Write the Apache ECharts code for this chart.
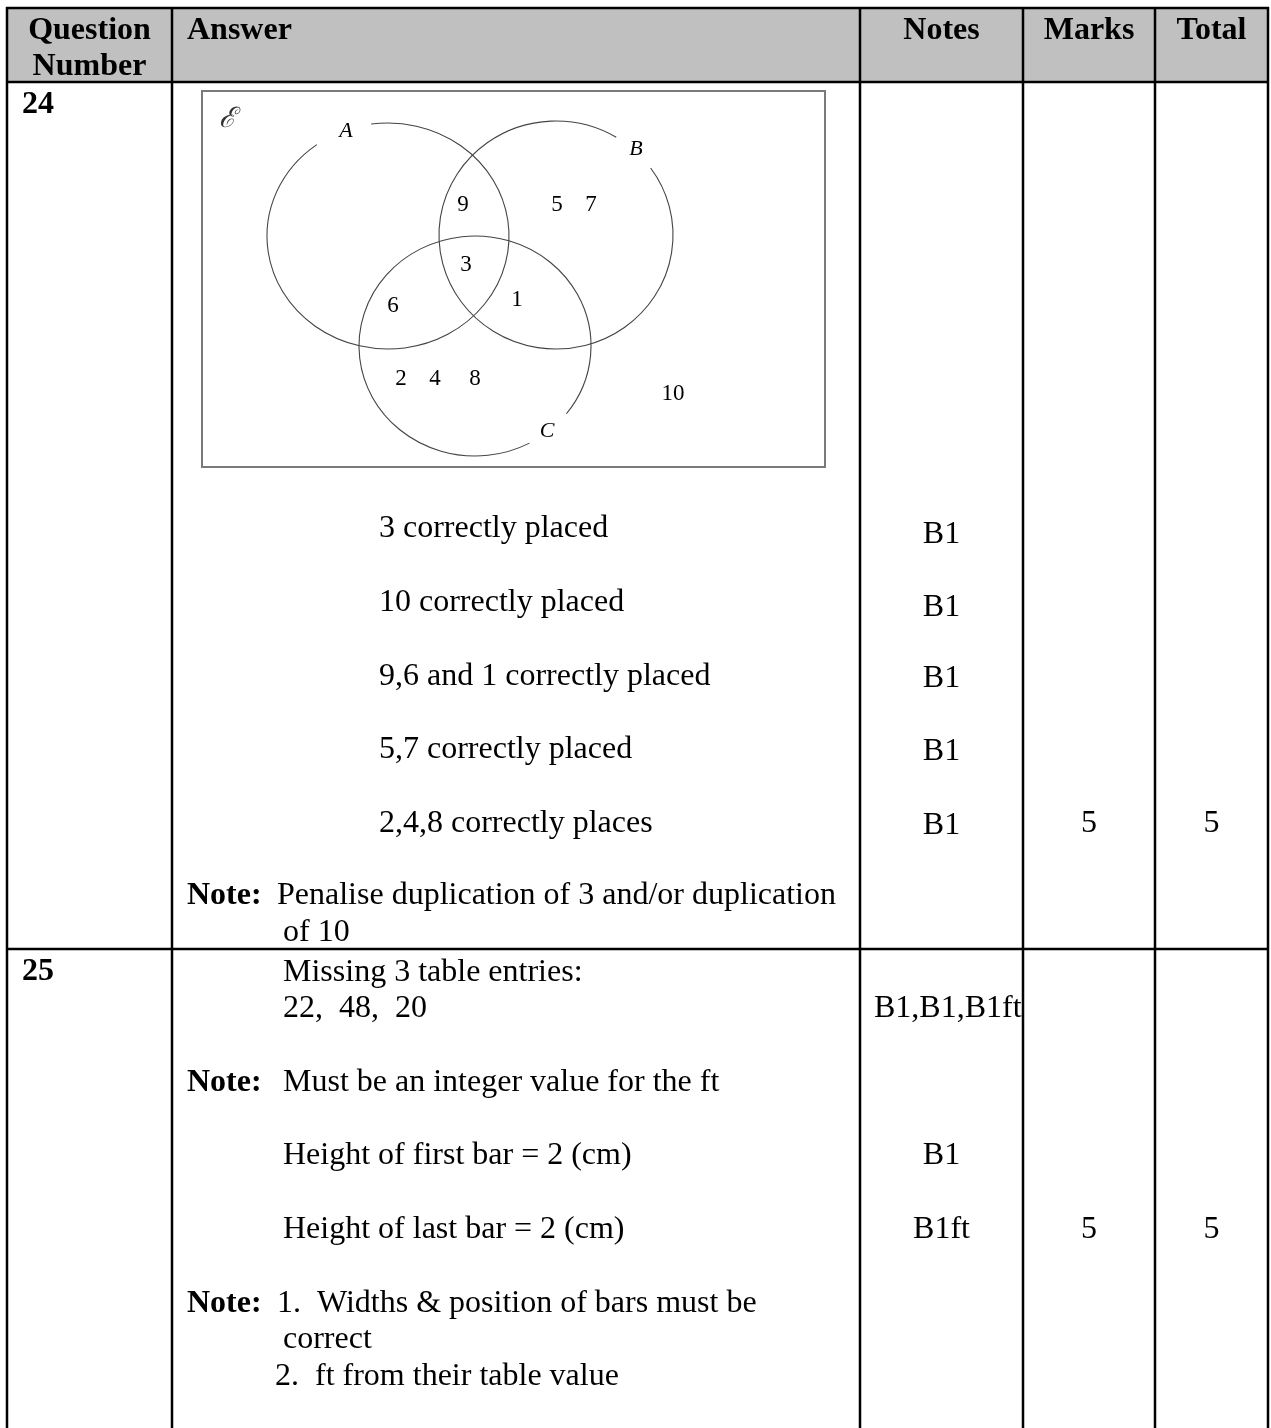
<!DOCTYPE html>
<html><head><meta charset="utf-8">
<script src="https://cdn.jsdelivr.net/npm/echarts@6/dist/echarts.min.js"></script>
<style>html,body{margin:0;padding:0;background:#fff}#c{width:1271px;height:1428px}</style>
</head><body><div id="c"></div>
<script>
// ---------- DATA ----------
const headers = ['Question\nNumber', 'Answer', 'Notes', 'Marks', 'Total'];
const questionNumbers = ['24', '25'];

const q24Answers = ['3 correctly placed', '10 correctly placed', '9,6 and 1 correctly placed', '5,7 correctly placed', '2,4,8 correctly places'];
const q24Notes = ['B1', 'B1', 'B1', 'B1', 'B1'];
const q24Marks = '5';
const q24Total = '5';
const q24NoteLines = ['Penalise duplication of 3 and/or duplication', 'of 10'];

const q25Lines = ['Missing 3 table entries:', '22,  48,  20'];
const q25NoteA = 'Must be an integer value for the ft';
const q25Heights = ['Height of first bar = 2 (cm)', 'Height of last bar = 2 (cm)'];
const q25Notes = ['B1,B1,B1ft', 'B1', 'B1ft'];
const q25Marks = '5';
const q25Total = '5';
const q25NoteBLines = ['1.  Widths & position of bars must be', 'correct', '2.  ft from their table value'];
const noteLabel = 'Note:';

const vennUniverse = 'ℰ';
const vennSetLabels = ['A', 'B', 'C'];
const vennRegionValues = {
  AB: ['9'], B: ['5', '7'], ABC: ['3'], BC: ['1'], AC: ['6'], C: ['2', '4', '8'], outside: ['10']
};

// ---------- LAYOUT ----------
const W = 1271, H = 1428;
const colX = [7, 172, 860, 1023, 1155, 1268];
const headerTop = 8, headerBottom = 82, rowSplit = 949;
const FONT = '"Liberation Serif", "Times New Roman", serif';
const FS = 32;
const DY = 2.5; // baseline nudge for large text

function renderAll(params, api) {
  const ch = [];
  const P = (x, y) => api.coord([x, y]);
  function text(str, x, y, opt) {
    opt = opt || {};
    const p = P(x, y + (opt.size ? 0 : DY));
    ch.push({
      type: 'text', x: p[0], y: p[1],
      style: {
        text: str, fill: opt.fill || '#000',
        font: (opt.italic ? 'italic ' : '') + (opt.bold ? 'bold ' : '') + (opt.size || FS) + 'px ' + (opt.family || FONT),
        align: opt.align || 'left', verticalAlign: 'middle', lineHeight: opt.lh || 36
      }
    });
  }
  function line(x1, y1, x2, y2, w, c) {
    const a = P(x1, y1), b = P(x2, y2);
    ch.push({ type: 'line', shape: { x1: a[0], y1: a[1], x2: b[0], y2: b[1] }, style: { stroke: c || '#000', lineWidth: w || 2 } });
  }
  // header background
  const h0 = P(colX[0], headerTop), h1 = P(colX[5], headerBottom);
  ch.push({ type: 'rect', shape: { x: h0[0], y: h0[1], width: h1[0] - h0[0], height: h1[1] - h0[1] }, style: { fill: '#c0c0c0' } });

  // table lines
  line(colX[0] - 1, headerTop, colX[5] + 1, headerTop, 2.5);
  line(colX[0] - 1, headerBottom, colX[5] + 1, headerBottom, 2.5);
  line(colX[0] - 1, rowSplit, colX[5] + 1, rowSplit, 2.5);
  colX.forEach(x => line(x, headerTop - 1, x, H, 2.5));

  // headers
  text(headers[0], (colX[0] + colX[1]) / 2, 46, { bold: true, align: 'center' });
  text(headers[1], 187, 28, { bold: true });
  text(headers[2], (colX[2] + colX[3]) / 2, 28, { bold: true, align: 'center' });
  text(headers[3], (colX[3] + colX[4]) / 2, 28, { bold: true, align: 'center' });
  text(headers[4], (colX[4] + colX[5]) / 2, 28, { bold: true, align: 'center' });

  // question numbers
  text(questionNumbers[0], 22, 102, { bold: true });
  text(questionNumbers[1], 22, 969, { bold: true });

  // Venn box
  const b0 = P(202, 91), b1 = P(825, 467);
  ch.push({ type: 'rect', shape: { x: b0[0], y: b0[1], width: b1[0] - b0[0], height: b1[1] - b0[1] }, style: { fill: '#fff', stroke: '#7a7a7a', lineWidth: 2 } });
  // circles (ellipse arcs with label gaps)
  const circles = [
    { c: [388, 236], rx: 121, ry: 113, s: -98, e: 234 },
    { c: [556, 235], rx: 117, ry: 114, s: -36, e: 301 },
    { c: [475, 346], rx: 116, ry: 110, s: 62, e: 398 }
  ];
  circles.forEach(ci => {
    const c = P(ci.c[0], ci.c[1]);
    ch.push({
      type: 'arc', x: c[0], y: c[1], scaleY: ci.ry / ci.rx,
      shape: { cx: 0, cy: 0, r: ci.rx, startAngle: ci.s * Math.PI / 180, endAngle: ci.e * Math.PI / 180, clockwise: true },
      style: { stroke: '#444', lineWidth: 1.1, fill: null }
    });
  });
  const vf = { size: 23 };
  const vi = { size: 22, italic: true, align: 'center' };
  text(vennUniverse, 227, 120, { size: 28, italic: true, align: 'center', family: '"DejaVu Serif", serif', fill: '#333' });
  text(vennSetLabels[0], 346, 131, vi);
  text(vennSetLabels[1], 636, 149, vi);
  text(vennSetLabels[2], 547, 431, vi);
  const regionPos = {
    AB: [[463, 205]], B: [[557, 205], [591, 205]], ABC: [[466, 265]], BC: [[517, 300]],
    AC: [[393, 306]], C: [[401, 379], [435, 379], [475, 379]], outside: [[673, 394]]
  };
  Object.keys(vennRegionValues).forEach(k => {
    vennRegionValues[k].forEach((v, i) => text(v, regionPos[k][i][0], regionPos[k][i][1], Object.assign({ align: 'center' }, vf)));
  });

  // Q24 answers
  const q24Y = [526, 600, 674, 747, 821];
  const q24NY = [532, 605, 676, 749, 823];
  q24Answers.forEach((s, i) => text(s, 379, q24Y[i]));
  q24Notes.forEach((s, i) => text(s, (colX[2] + colX[3]) / 2, q24NY[i], { align: 'center' }));
  text(q24Marks, (colX[3] + colX[4]) / 2, 821, { align: 'center' });
  text(q24Total, (colX[4] + colX[5]) / 2, 821, { align: 'center' });
  text(noteLabel, 187, 893, { bold: true });
  text(q24NoteLines[0], 277, 893);
  text(q24NoteLines[1], 283, 930);

  // Q25
  text(q25Lines[0], 283, 970);
  text(q25Lines[1], 283, 1006);
  text(q25Notes[0], 874, 1006);
  text(noteLabel, 187, 1080, { bold: true });
  text(q25NoteA, 283, 1080);
  text(q25Heights[0], 283, 1153);
  text(q25Notes[1], (colX[2] + colX[3]) / 2, 1153, { align: 'center' });
  text(q25Heights[1], 283, 1227);
  text(q25Notes[2], (colX[2] + colX[3]) / 2, 1227, { align: 'center' });
  text(q25Marks, (colX[3] + colX[4]) / 2, 1227, { align: 'center' });
  text(q25Total, (colX[4] + colX[5]) / 2, 1227, { align: 'center' });
  text(noteLabel, 187, 1301, { bold: true });
  text(q25NoteBLines[0], 277, 1301);
  text(q25NoteBLines[1], 283, 1337);
  text(q25NoteBLines[2], 275, 1374);

  return { type: 'group', children: ch };
}

const chart = echarts.init(document.getElementById('c'), null, { renderer: 'canvas' });
chart.setOption({
  animation: false,
  backgroundColor: '#fff',
  grid: { left: 0, right: 0, top: 0, bottom: 0 },
  xAxis: { type: 'value', min: 0, max: W, show: false },
  yAxis: { type: 'value', min: 0, max: H, inverse: true, show: false },
  series: [{ type: 'custom', coordinateSystem: 'cartesian2d', data: [[0, 0]], renderItem: renderAll, clip: false }]
});
</script></body></html>
